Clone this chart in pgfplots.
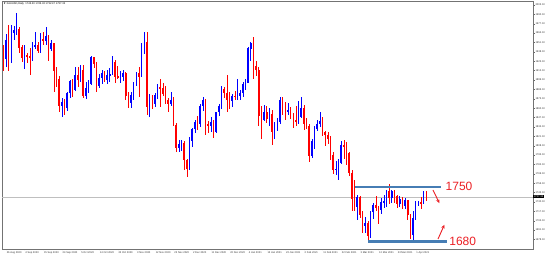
\documentclass[border=0pt]{standalone}
\usepackage{pgfplots}
\pgfplotsset{compat=1.18}
\usepackage{pgfplotstable}
\usetikzlibrary{arrows.meta}
\usepackage{amssymb}
\usepackage{fontspec}
\setmainfont{Liberation Sans}
\definecolor{lvl}{RGB}{70,125,180}
\definecolor{bull}{RGB}{0,0,255}
\definecolor{bear}{RGB}{255,0,0}
\definecolor{anno}{RGB}{235,30,35}
\pgfplotstableread{
i o h l c
-1 1939 1948 1911 1929
0 1929 1963 1917 1954
1 1954 1976 1911 1929
2 1929 1975 1922 1964
3 1964 1974 1954 1968
4 1968 1992 1962 1970
5 1970 1973 1936 1944
6 1944 1948 1924 1930
7 1930 1947 1915 1934
8 1934 1937 1923 1932
9 1932 1944 1906 1931
10 1931 1952 1925 1946
11 1946 1965 1942 1947
12 1947 1952 1937 1940
13 1940 1964 1937 1956
14 1956 1966 1947 1954
15 1954 1973 1948 1960
16 1960 1962 1925 1943
17 1943 1955 1939 1950
18 1950 1951 1882 1912
19 1912 1917 1890 1900
20 1900 1904 1855 1863
21 1863 1874 1848 1868
22 1868 1873 1851 1861
23 1861 1882 1856 1881
24 1881 1899 1874 1897
25 1897 1901 1875 1886
26 1886 1917 1884 1906
27 1906 1917 1889 1899
28 1899 1920 1896 1913
29 1913 1920 1874 1878
30 1878 1896 1873 1887
31 1887 1899 1881 1894
32 1894 1933 1892 1930
33 1930 1931 1916 1922
34 1922 1924 1883 1891
35 1891 1908 1888 1902
36 1902 1913 1894 1908
37 1908 1912 1896 1899
38 1899 1913 1894 1905
39 1905 1916 1897 1907
40 1907 1932 1906 1924
41 1924 1927 1895 1904
42 1904 1918 1900 1902
43 1902 1912 1895 1903
44 1903 1913 1898 1908
45 1908 1910 1872 1878
46 1878 1882 1860 1868
47 1868 1882 1860 1878
48 1878 1896 1872 1894
49 1894 1910 1891 1909
50 1909 1917 1875 1904
51 1904 1951 1903 1948
52 1948 1965 1935 1951
53 1951 1966 1850 1862
54 1862 1880 1848 1877
55 1877 1878 1859 1866
56 1866 1881 1862 1878
57 1878 1893 1873 1889
58 1889 1900 1862 1887
59 1887 1895 1877 1880
60 1880 1891 1866 1871
61 1871 1874 1855 1866
62 1866 1882 1863 1871
63 1871 1875 1836 1837
64 1837 1839 1800 1805
65 1805 1816 1799 1810
66 1810 1816 1801 1812
67 1812 1814 1775 1788
68 1788 1790 1764 1776
69 1776 1820 1774 1815
70 1815 1833 1806 1831
71 1831 1844 1826 1841
72 1841 1849 1830 1839
73 1839 1866 1834 1863
74 1863 1875 1856 1871
75 1871 1873 1823 1838
76 1838 1842 1826 1836
77 1836 1848 1827 1840
78 1840 1843 1819 1827
79 1827 1855 1826 1855
80 1855 1866 1849 1863
81 1863 1891 1859 1886
82 1886 1889 1874 1881
83 1881 1906 1855 1872
84 1872 1882 1859 1870
85 1870 1880 1862 1877
86 1877 1884 1871 1876
87 1876 1900 1871 1878
88 1878 1885 1871 1881
89 1881 1896 1876 1893
90 1893 1900 1885 1895
91 1895 1945 1895 1943
92 1943 1952 1925 1950
93 1950 1959 1901 1918
94 1918 1926 1905 1913
95 1913 1917 1836 1849
96 1849 1863 1817 1844
97 1844 1864 1842 1855
98 1855 1863 1840 1845
99 1845 1860 1835 1851
100 1851 1857 1809 1828
101 1828 1841 1818 1840
102 1840 1847 1829 1841
103 1841 1875 1838 1871
104 1871 1875 1850 1866
105 1866 1868 1843 1856
106 1856 1867 1850 1857
107 1857 1861 1845 1850
108 1850 1853 1832 1843
109 1843 1863 1836 1842
110 1842 1870 1838 1848
111 1848 1875 1846 1860
112 1860 1865 1830 1838
113 1838 1846 1831 1835
114 1835 1838 1785 1794
115 1794 1817 1791 1814
116 1814 1836 1804 1832
117 1832 1844 1829 1838
118 1838 1855 1834 1842
119 1842 1848 1822 1826
120 1826 1828 1808 1823
121 1823 1827 1810 1818
122 1818 1822 1788 1795
123 1795 1800 1769 1775
124 1775 1787 1767 1776
125 1776 1789 1760 1784
126 1784 1815 1782 1809
127 1809 1816 1790 1806
128 1806 1813 1782 1797
129 1797 1799 1766 1770
130 1770 1774 1717 1734
131 1734 1760 1717 1723
132 1723 1740 1705 1737
133 1737 1738 1708 1712
134 1712 1718 1687 1697
135 1697 1709 1687 1700
136 1700 1704 1676 1683
137 1683 1718 1680 1716
138 1716 1729 1706 1726
139 1726 1739 1717 1722
140 1722 1724 1699 1719
141 1719 1735 1714 1730
142 1730 1740 1722 1731
143 1731 1747 1723 1745
144 1745 1755 1727 1736
145 1736 1746 1728 1745
146 1745 1746 1728 1738
147 1738 1740 1722 1727
148 1727 1739 1723 1734
149 1734 1737 1721 1725
150 1725 1735 1721 1732
151 1732 1733 1705 1712
152 1712 1714 1679 1685
153 1685 1717 1677 1708
154 1708 1731 1705 1728
155 1728 1732 1725 1729
156 1729 1737 1720 1728
157 1728 1745 1727 1743
158 1743 1745 1732 1737.3
}\gold
\begin{document}
\begin{tikzpicture}
\begin{axis}[
  at={(0,0)}, anchor=south west,
  scale only axis, width=531pt, height=248pt,
  xmin=-1.5, xmax=198.1, ymin=1664.9, ymax=2008.6,
  clip=false,
  axis line style={black!55, line width=0.5pt},
  ytick pos=right, xtick pos=bottom, yticklabel pos=right,
  tick align=outside, major tick length=1.5pt,
  tick style={black!60, line width=0.3pt},
  ytick={1678.1,1691.1,...,2004},
  yticklabel style={font=\fontsize{2.6}{3}\selectfont, text=black!80, inner sep=0.8pt,
    /pgf/number format/.cd, fixed, fixed zerofill, precision=2, 1000 sep={}, assume math mode=true},
  xtick={0,7,...,154},
  xticklabels={26 Aug 2020, 4 Sep 2020, 15 Sep 2020, 24 Sep 2020, 5 Oct 2020, 14 Oct 2020, 23 Oct 2020, 3 Nov 2020, 12 Nov 2020, 23 Nov 2020, 2 Dec 2020, 11 Dec 2020, 22 Dec 2020, 4 Jan 2021, 13 Jan 2021, 22 Jan 2021, 2 Feb 2021, 11 Feb 2021, 22 Feb 2021, 3 Mar 2021, 12 Mar 2021, 23 Mar 2021, 1 Apr 2021},
  xticklabel style={font=\fontsize{2.6}{3}\selectfont, text=black!80, anchor=north west, inner sep=0.6pt},
]
% current price line
\addplot[black!25, line width=0.4pt, forget plot] coordinates {(-1.5,1737.3) (198.1,1737.3)};
% wicks
\addplot[draw=none, mark=none, forget plot, error bars/.cd, y dir=both, y explicit, error mark=none,
  error bar style={bull, line width=0.5pt}]
  table[x=i, y expr={\thisrow{c}>=\thisrow{o} ? (\thisrow{h}+\thisrow{l})/2 : nan}, y error expr={(\thisrow{h}-\thisrow{l})/2}] {\gold};
\addplot[draw=none, mark=none, forget plot, error bars/.cd, y dir=both, y explicit, error mark=none,
  error bar style={bear, line width=0.5pt}]
  table[x=i, y expr={\thisrow{c}<\thisrow{o} ? (\thisrow{h}+\thisrow{l})/2 : nan}, y error expr={(\thisrow{h}-\thisrow{l})/2}] {\gold};
% bodies
\addplot[draw=none, mark=none, forget plot, error bars/.cd, y dir=both, y explicit, error mark=none,
  error bar style={bull, line width=1.6pt}]
  table[x=i, y expr={\thisrow{c}>=\thisrow{o} ? (\thisrow{o}+\thisrow{c})/2 : nan}, y error expr={abs(\thisrow{c}-\thisrow{o})/2+0.4}] {\gold};
\addplot[draw=none, mark=none, forget plot, error bars/.cd, y dir=both, y explicit, error mark=none,
  error bar style={bear, line width=1.6pt}]
  table[x=i, y expr={\thisrow{c}<\thisrow{o} ? (\thisrow{o}+\thisrow{c})/2 : nan}, y error expr={abs(\thisrow{c}-\thisrow{o})/2+0.4}] {\gold};
% levels
\addplot[lvl, line width=2pt, forget plot] coordinates {(131.2,1750.8) (163.5,1750.8)};
\addplot[lvl, line width=2.6pt, forget plot] coordinates {(136.1,1675.6) (165.8,1675.6)};
% arrows
\addplot[anno, line width=0.9pt, -{Stealth[length=4pt,width=3.5pt]}, forget plot] coordinates {(160.5,1746.7) (162.9,1728.5)};
\addplot[anno, line width=0.9pt, -{Stealth[length=4pt,width=3.5pt]}, forget plot] coordinates {(162.4,1678.8) (164.8,1698.5)};
\node[anno, font=\fontsize{12}{12}\selectfont, anchor=west, inner sep=0pt] at (axis cs:165.2,1751) {1750};
\node[anno, font=\fontsize{12}{12}\selectfont, anchor=west, inner sep=0pt] at (axis cs:166.6,1676) {1680};
% price box
\node[fill=black, text=white, font=\fontsize{2.6}{3}\selectfont, inner sep=0.6pt, anchor=west] at (axis cs:198.1,1737.3) {1737.32};
% header
\node[anchor=north west, inner sep=0pt, font=\fontsize{2.6}{3}\selectfont] at (rel axis cs:0,1) [xshift=1.5pt, yshift=-1.8pt] {$\blacktriangledown$\ XAUUSD,Daily\ \ 1743.20 1745.32 1732.47 1737.32};
\end{axis}
\pgfresetboundingbox
\path[use as bounding box] (-2pt,-7pt) rectangle (545pt,249pt);
\end{tikzpicture}
\end{document}
